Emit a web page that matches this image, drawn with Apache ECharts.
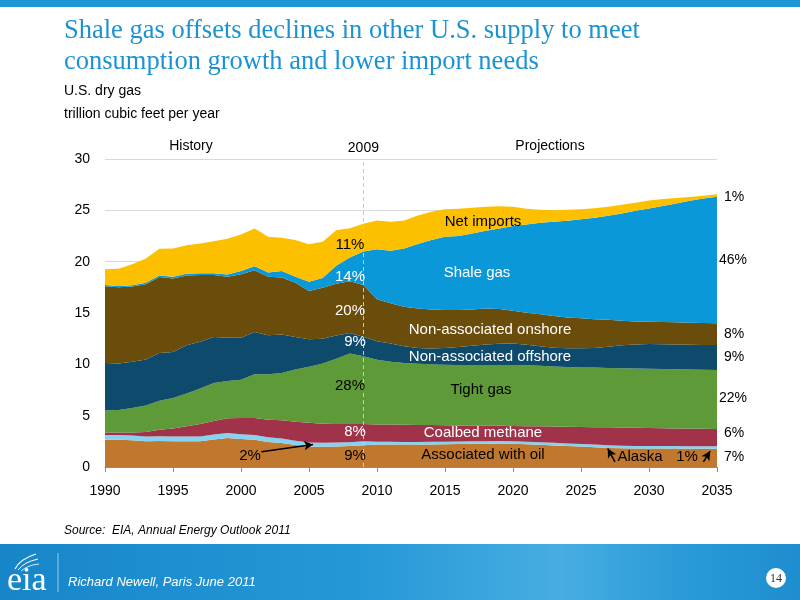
<!DOCTYPE html>
<html><head><meta charset="utf-8">
<script src="https://cdn.jsdelivr.net/npm/echarts@6/dist/echarts.min.js"></script>
<style>html,body{margin:0;padding:0;background:#fff}#c{width:800px;height:600px}</style>
</head><body><div id="c"></div>
<script>
// ---- data (trillion cubic feet per year) ----
const years = [1990,1991,1992,1993,1994,1995,1996,1997,1998,1999,
  2000,2001,2002,2003,2004,2005,2006,2007,2008,2009,
  2010,2011,2012,2013,2014,2015,2016,2017,2018,2019,
  2020,2021,2022,2023,2024,2025,2026,2027,2028,2029,
  2030,2031,2032,2033,2034,2035];
const associatedWithOil = [2.66,2.66,2.6,2.5,2.53,2.5,2.5,2.5,2.68,2.82,
  2.73,2.66,2.44,2.34,2.15,2.0,1.98,2.0,2.05,2.13,
  2.2,2.2,2.18,2.18,2.2,2.22,2.24,2.26,2.27,2.28,
  2.26,2.22,2.17,2.1,2.05,2.0,1.93,1.86,1.82,1.8,
  1.79,1.79,1.79,1.78,1.77,1.77];
const alaska = [0.46,0.46,0.47,0.46,0.47,0.47,0.47,0.47,0.48,0.48,
  0.47,0.46,0.46,0.44,0.4,0.38,0.37,0.38,0.37,0.37,
  0.27,0.26,0.25,0.25,0.25,0.25,0.25,0.25,0.25,0.25,
  0.25,0.25,0.25,0.25,0.25,0.25,0.25,0.25,0.25,0.25,
  0.25,0.25,0.25,0.25,0.25,0.25];
const coalbedMethane = [0.23,0.25,0.3,0.45,0.62,0.77,0.99,1.23,1.32,1.45,
  1.58,1.66,1.71,1.77,1.85,1.92,1.87,1.82,1.78,1.68,
  1.68,1.67,1.69,1.67,1.63,1.59,1.56,1.53,1.51,1.49,
  1.49,1.51,1.54,1.59,1.62,1.65,1.7,1.75,1.77,1.77,
  1.76,1.74,1.72,1.71,1.7,1.68];
const tightGas = [2.15,2.18,2.38,2.59,2.83,2.99,3.19,3.44,3.71,3.63,
  3.73,4.25,4.42,4.61,5.1,5.47,5.86,6.35,6.86,6.6,
  6.3,6.13,6.0,5.95,5.92,5.89,5.88,5.89,5.9,5.91,
  5.93,5.92,5.9,5.86,5.83,5.8,5.8,5.79,5.78,5.78,
  5.77,5.77,5.77,5.76,5.75,5.75];
const nonAssocOffshore = [4.64,4.52,4.49,4.46,4.65,4.48,4.71,4.55,4.48,4.2,
  4.07,4.13,3.81,3.74,3.17,2.68,2.42,2.27,2.0,1.91,
  1.8,1.78,1.63,1.55,1.55,1.65,1.77,1.89,2.01,2.07,
  2.11,2.0,1.89,1.82,1.81,1.86,1.92,2.07,2.23,2.34,
  2.4,2.4,2.39,2.4,2.41,2.43];
const nonAssocOnshore = [7.46,7.43,7.34,7.35,7.4,7.15,6.79,6.5,6.02,5.94,
  6.2,6.01,5.68,5.56,5.27,4.7,4.95,5.03,5.04,5.03,
  4.1,3.9,3.86,3.85,3.8,3.69,3.59,3.53,3.51,3.39,
  3.18,3.13,3.12,3.08,3.01,2.92,2.78,2.63,2.4,2.24,
  2.18,2.17,2.17,2.16,2.15,2.12];
const shaleGas = [0.12,0.12,0.12,0.13,0.16,0.16,0.17,0.17,0.17,0.22,
  0.3,0.39,0.43,0.62,0.58,0.9,0.95,1.75,2.3,3.28,
  4.85,5.12,5.68,6.26,6.75,7.14,7.21,7.4,7.55,7.85,
  8.25,8.6,8.92,9.19,9.41,9.64,9.9,10.12,10.45,10.78,
  11.04,11.29,11.58,11.87,12.12,12.33];
const netImports = [1.54,1.68,2.06,2.37,2.59,2.77,2.79,2.91,3.14,3.49,
  3.57,3.68,3.47,3.25,3.58,3.65,3.54,3.45,2.85,2.7,
  2.8,2.84,2.71,2.79,2.75,2.67,2.65,2.5,2.35,2.16,
  1.88,1.52,1.26,1.13,1.07,0.98,0.92,0.88,0.85,0.79,
  0.76,0.69,0.53,0.37,0.27,0.24];
const yTicks = [0,5,10,15,20,25,30];
const historyEndYear = 2009;
// annotation arrows [fromYear, fromValue, toYear, toValue]
const arrowTwoPct = [2001.5,1.49,2005.3,2.2];
const arrowAlaskaL = [2027.5,0.5,2026.97,1.8];
const arrowAlaskaR = [2034.0,0.5,2034.5,1.55];

// ---- chart ----
const SANS = "'Liberation Sans', Arial, sans-serif";
const SERIF = "'Liberation Serif', 'Times New Roman', serif";
const chart = echarts.init(document.getElementById('c'), null, {renderer:'canvas'});
const cats = years.map(String);

function mk(name, vals, color, extra) {
  return Object.assign({
    name, type:'line', stack:'gas', symbol:'none', silent:true,
    data: vals.slice(),
    lineStyle:{width:0}, itemStyle:{color}, areaStyle:{color, opacity:1},
    emphasis:{disabled:true}, animation:false
  }, extra || {});
}

function txt(text, x, y, fill, size, align, font) {
  return {type:'text', silent:true, z:100, style:{text, x, y, fill, font:(size||15)+'px '+(font||SANS), align:align||'center', verticalAlign:'middle'}};
}
function arrowPair(a){ return [{coord:[a[0],a[1]]},{coord:[a[2],a[3]]}]; }

const graphics = [
  {type:'rect', shape:{x:0,y:0,width:800,height:7}, style:{fill:'#1b97d6'}, silent:true},
  txt('Shale gas offsets declines in other U.S. supply to meet', 64, 31, '#1b93d3', 26.5, 'left', SERIF),
  txt('consumption growth and lower import needs', 64, 62, '#1b93d3', 26.5, 'left', SERIF),
  txt('U.S. dry gas', 64, 91, '#000', 14, 'left'),
  txt('trillion cubic feet per year', 64, 114, '#000', 14, 'left'),
  txt('History', 191, 146, '#000', 14),
  txt('Projections', 550, 146, '#000', 14),
  // series labels
  txt('Net imports', 483, 222, '#000', 15),
  txt('Shale gas', 477, 273, '#fff', 15),
  txt('Non-associated onshore', 490, 330, '#fff', 15),
  txt('Non-associated offshore', 490, 357, '#fff', 15),
  txt('Tight gas', 481, 390, '#000', 15),
  txt('Coalbed methane', 483, 433, '#fff', 15),
  txt('Associated with oil', 483, 455, '#000', 15),
  txt('Alaska', 640, 457, '#000', 15),
  txt('1%', 687, 457, '#000', 15),
  // 2035 shares
  txt('1%', 734, 197, '#000', 14),
  txt('46%', 733, 260, '#000', 14),
  txt('8%', 734, 334, '#000', 14),
  txt('9%', 734, 357, '#000', 14),
  txt('22%', 733, 398, '#000', 14),
  txt('6%', 734, 433, '#000', 14),
  txt('7%', 734, 457, '#000', 14),
  // 2009 shares
  txt('11%', 350, 245, '#000', 15),
  txt('14%', 350, 277, '#fff', 15),
  txt('20%', 350, 311, '#fff', 15),
  txt('9%', 355, 342, '#fff', 15),
  txt('28%', 350, 386, '#000', 15),
  txt('8%', 355, 432, '#fff', 15),
  txt('9%', 355, 456, '#000', 15),
  txt('2%', 250, 456, '#000', 15),
  // source
  {type:'text', silent:true, style:{text:'Source:  EIA, Annual Energy Outlook 2011', x:64, y:531, fill:'#000', font:'italic 12px '+SANS, align:'left', verticalAlign:'middle'}},
  // footer band
  {type:'rect', silent:true, shape:{x:0,y:544,width:800,height:56}, style:{fill:new echarts.graphic.LinearGradient(0,0,1,0,[
    {offset:0,color:'#1786c9'},{offset:0.45,color:'#2598d7'},{offset:0.7,color:'#47ade2'},{offset:0.85,color:'#2a9bd8'},{offset:1,color:'#1d8dcf'}])}},
  {type:'line', silent:true, shape:{x1:58,y1:553,x2:58,y2:592}, style:{stroke:'rgba(255,255,255,0.55)', lineWidth:1}},
  {type:'text', silent:true, style:{text:'eia', x:7, y:581, fill:'#fff', font:'34px '+SERIF, align:'left', verticalAlign:'middle'}},
  {type:'bezierCurve', silent:true, shape:{x1:15,y1:569,x2:36,y2:554,cpx1:20,cpy1:559}, style:{stroke:'#fff', lineWidth:1.2, fill:null}},
  {type:'bezierCurve', silent:true, shape:{x1:18,y1:570,x2:38,y2:559,cpx1:24,cpy1:562}, style:{stroke:'#fff', lineWidth:1, fill:null}},
  {type:'bezierCurve', silent:true, shape:{x1:21,y1:571,x2:39,y2:564,cpx1:28,cpy1:565}, style:{stroke:'#fff', lineWidth:0.8, fill:null}},
  {type:'text', silent:true, style:{text:'Richard Newell, Paris June 2011', x:68, y:582, fill:'#fff', font:'italic 13px '+SANS, align:'left', verticalAlign:'middle'}},
  {type:'circle', silent:true, shape:{cx:776, cy:578, r:10}, style:{fill:'#fff'}},
  {type:'text', silent:true, style:{text:'14', x:776, y:579, fill:'#333', font:'12px '+SERIF, align:'center', verticalAlign:'middle'}}
];

const option = {
  animation:false,
  backgroundColor:'#fff',
  grid:{left:105, right:83, top:159, bottom:133, containLabel:false},
  xAxis:[{type:'category', data:cats, boundaryGap:false,
    axisLine:{show:true, lineStyle:{color:'#8c8c8c', width:1}},
    axisTick:{show:true, length:5, interval:4, lineStyle:{color:'#8c8c8c'}},
    axisLabel:{color:'#000', fontSize:14, fontFamily:SANS, margin:17, interval:4},
    splitLine:{show:false}},
    {type:'value', min:years[0], max:years[years.length-1], show:false}],
  yAxis:{type:'value', min:yTicks[0], max:yTicks[yTicks.length-1], interval:5,
    axisLine:{show:false}, axisTick:{show:false},
    axisLabel:{color:'#000', fontSize:14, fontFamily:SANS, margin:15},
    splitLine:{show:true, lineStyle:{color:'#d9d9d9', width:1}}},
  series:[
    mk('Associated with oil', associatedWithOil, '#c0782f'),
    mk('Alaska', alaska, '#86d2f2'),
    mk('Coalbed methane', coalbedMethane, '#a0334a'),
    mk('Tight gas', tightGas, '#5e9a38'),
    mk('Non-associated offshore', nonAssocOffshore, '#0d4a6c'),
    mk('Non-associated onshore', nonAssocOnshore, '#6a4d0b'),
    mk('Shale gas', shaleGas, '#0a98d8'),
    mk('Net imports', netImports, '#fcc000', {
      markLine:{silent:true, symbol:['none','none'], animation:false,
        lineStyle:{color:'#c8c8c8', width:1, type:[4,3]},
        label:{show:true, position:'end', formatter:String(historyEndYear), color:'#000', fontSize:14, fontFamily:SANS, distance:4},
        data:[{xAxis:String(historyEndYear)}]}
    }),
    {name:'arrows', type:'line', xAxisIndex:1, silent:true, symbol:'none', data:[[years[0],0]],
      lineStyle:{opacity:0}, animation:false, z:10,
      markLine:{silent:true, symbol:['none','arrow'], symbolSize:[7,9], animation:false,
        lineStyle:{color:'#000', width:1.5, type:'solid'}, label:{show:false},
        data:[arrowPair(arrowTwoPct), arrowPair(arrowAlaskaL), arrowPair(arrowAlaskaR)]}}
  ],
  graphic: graphics
};
chart.setOption(option);
</script></body></html>
